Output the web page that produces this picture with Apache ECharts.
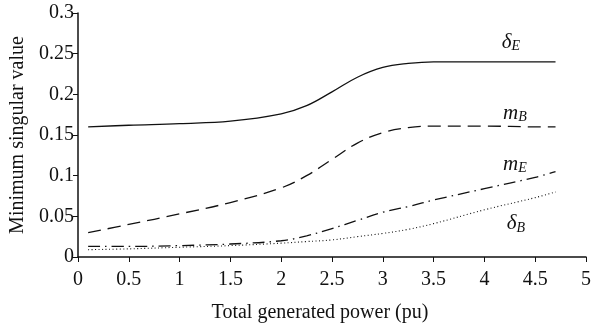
<!DOCTYPE html>
<html>
<head>
<meta charset="utf-8">
<script src="https://cdn.jsdelivr.net/npm/echarts@6/dist/echarts.min.js"></script>
<style>
  html, body { margin: 0; padding: 0; background: #fff; }
  #chart { width: 594px; height: 330px; }
</style>
</head>
<body>
<div id="chart"></div>
<script>
// total generated power (pu)
const power = [0.1, 0.5, 1, 1.5, 2, 2.25, 2.5, 2.75, 3, 3.25, 3.5, 4, 4.5, 4.7]
const deltaE = [0.160, 0.162, 0.164, 0.167, 0.176, 0.186, 0.203, 0.221, 0.233, 0.238, 0.240, 0.240, 0.240, 0.240]
const mB = [0.030, 0.040, 0.053, 0.067, 0.085, 0.100, 0.120, 0.140, 0.153, 0.159, 0.161, 0.161, 0.160, 0.160]
const mE = [0.013, 0.013, 0.014, 0.016, 0.020, 0.026, 0.035, 0.045, 0.055, 0.062, 0.070, 0.084, 0.098, 0.105]
const deltaB = [0.009, 0.010, 0.012, 0.014, 0.017, 0.019, 0.021, 0.025, 0.029, 0.034, 0.041, 0.058, 0.073, 0.080]

// curve labels: [x, y] in data units
const labelPos = {
  deltaE: [4.26, 0.264],
  mB: [4.3, 0.177],
  mE: [4.3, 0.114],
  deltaB: [4.31, 0.041]
}

const serif = '"Liberation Serif", "DejaVu Serif", serif'

function pairs (ys) {
  return power.map((x, i) => [x, ys[i]])
}

function curveLabel (pos, main, sub) {
  return {
    symbol: 'circle',
    symbolSize: 0,
    silent: true,
    data: [{
      coord: pos,
      label: {
        show: true,
        position: 'inside',
        formatter: '{m|' + main + '}{s|' + sub + '}',
        rich: {
          m: { fontFamily: serif, fontStyle: 'italic', fontSize: 21, color: '#111' },
          s: { fontFamily: serif, fontStyle: 'italic', fontSize: 14, color: '#111', verticalAlign: 'bottom', padding: [9, 0, 0, 0] }
        }
      }
    }]
  }
}

function line (name, ys, type, width, label) {
  return {
    name: name,
    type: 'line',
    smooth: 0.4,
    symbol: 'none',
    data: pairs(ys),
    lineStyle: { color: '#111', width: width, type: type },
    markPoint: label
  }
}

const chart = echarts.init(document.getElementById('chart'), null, { renderer: 'canvas' })
chart.setOption({
  animation: false,
  backgroundColor: '#fff',
  grid: { left: 76, right: 6, top: 13, bottom: 73 },
  xAxis: {
    type: 'value',
    min: 0,
    max: 5,
    interval: 0.5,
    name: 'Total generated power (pu)',
    nameLocation: 'middle',
    nameGap: 46,
    nameTextStyle: { fontFamily: serif, fontSize: 20, color: '#111', padding: [0, 24, 0, 0] },
    splitLine: { show: false },
    axisLine: { lineStyle: { color: '#111', width: 1.5 } },
    axisTick: { inside: false, length: 5, lineStyle: { color: '#111' } },
    axisLabel: { fontFamily: serif, fontSize: 20, color: '#111', margin: 13 }
  },
  yAxis: {
    type: 'value',
    min: 0,
    max: 0.3,
    interval: 0.05,
    name: 'Minimum singular value',
    nameLocation: 'middle',
    nameGap: 50,
    nameTextStyle: { fontFamily: serif, fontSize: 20, color: '#111' },
    splitLine: { show: false },
    axisLine: { show: true, lineStyle: { color: '#111', width: 1.5 } },
    axisTick: { show: true, inside: false, length: 5, lineStyle: { color: '#111' } },
    axisLabel: { fontFamily: serif, fontSize: 20, color: '#111', margin: 4 }
  },
  series: [
    line('δE', deltaE, 'solid', 1.3, curveLabel(labelPos.deltaE, 'δ', 'E')),
    line('mB', mB, [13, 7], 1.3, curveLabel(labelPos.mB, 'm', 'B')),
    line('mE', mE, [12, 5, 1.5, 5], 1.3, curveLabel(labelPos.mE, 'm', 'E')),
    line('δB', deltaB, [1, 2.5], 1.1, curveLabel(labelPos.deltaB, 'δ', 'B'))
  ]
})
</script>
</body>
</html>
